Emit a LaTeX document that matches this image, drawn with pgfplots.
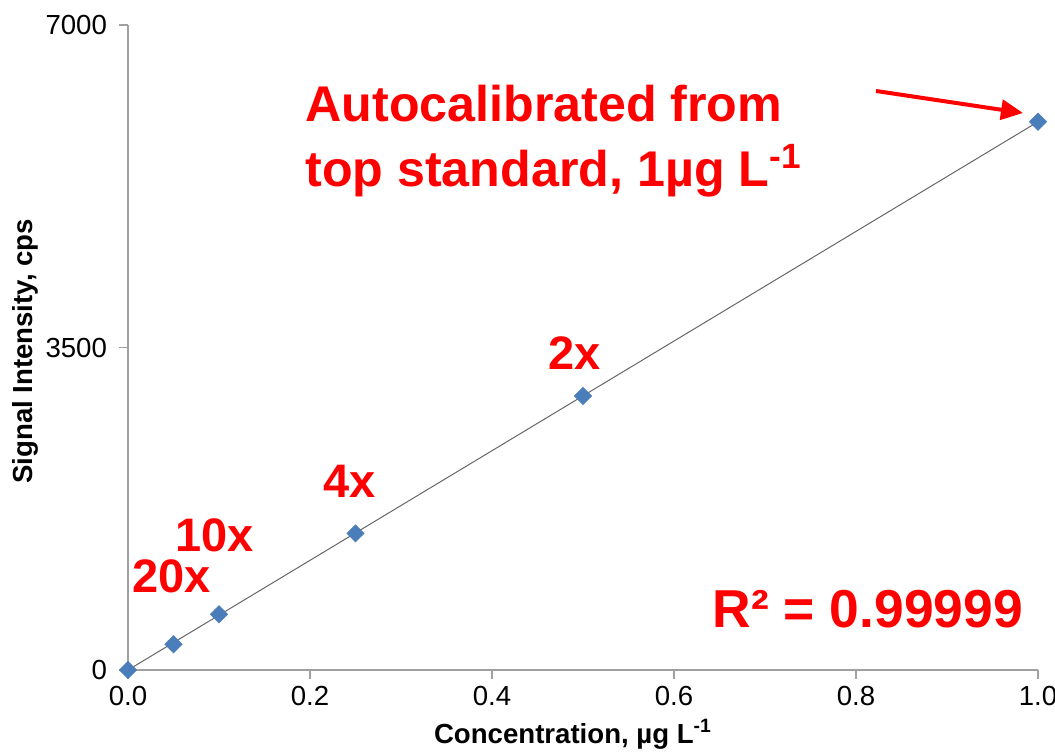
\documentclass[border=0pt]{standalone}
\usepackage{fontspec}
\setmainfont{Liberation Sans}
\usepackage{pgfplots}
\pgfplotsset{compat=1.18}
\usetikzlibrary{arrows.meta}
\definecolor{mblue}{HTML}{4A7EBB}
\definecolor{axgray}{HTML}{A0A0A0}
\definecolor{annred}{HTML}{FF0000}
\begin{document}
\begin{tikzpicture}
\begin{axis}[
  at={(0,0)}, anchor=south west,
  scale only axis, width=455pt, height=322.5pt,
  xmin=0, xmax=1, ymin=0, ymax=7000,
  axis lines=left,
  axis line style={axgray, line width=0.6pt, -},
  xtick={0,0.2,0.4,0.6,0.8,1},
  xticklabels={0.0,0.2,0.4,0.6,0.8,1.0},
  ytick={0,3500,7000},
  scaled y ticks=false,
  /pgf/number format/1000 sep={},
  /pgf/number format/assume math mode=true,
  tick align=outside,
  major tick length=4.5pt,
  tick style={axgray, line width=0.6pt},
  ticklabel style={font=\fontsize{13.8}{16}\selectfont, text=black},
  yticklabel style={xshift=-2.5pt},
  xlabel={Concentration, µg L\textsuperscript{-1}},
  ylabel={Signal Intensity, cps},
  xlabel style={at={(axis description cs:0.489,-0.1132)}, anchor=base, font=\bfseries\fontsize{13.8}{16}\selectfont, inner sep=0pt},
  ylabel style={at={(axis description cs:-0.1044,0.494)}, anchor=base, font=\bfseries\fontsize{13.8}{16}\selectfont, inner sep=0pt},
  clip=false,
]
\addplot[only marks, mark=square*, mark size=3pt, color=mblue, mark options={draw=mblue, fill=mblue, rotate=45}]
  coordinates {(0,0) (0.05,279) (0.1,605) (0.25,1483) (0.5,2974) (1.0,5950)};
\addplot[no marks, color=black!60, line width=0.5pt]
  coordinates {(0,0) (1,5950)};

\node[anchor=base west, inner sep=0pt, text=annred, font=\bfseries\fontsize{23.5}{28}\selectfont] at (axis cs:0.0044,836) {20x};
\node[anchor=base west, inner sep=0pt, text=annred, font=\bfseries\fontsize{23.5}{28}\selectfont] at (axis cs:0.0516,1281) {10x};
\node[anchor=base west, inner sep=0pt, text=annred, font=\bfseries\fontsize{23.5}{28}\selectfont] at (axis cs:0.214,1867) {4x};
\node[anchor=base west, inner sep=0pt, text=annred, font=\bfseries\fontsize{23.5}{28}\selectfont] at (axis cs:0.4615,3256) {2x};
\node[anchor=base west, inner sep=0pt, text=annred, font=\bfseries\fontsize{25.1}{30}\selectfont] at (axis cs:0.1945,5958) {Autocalibrated from};
\node[anchor=base west, inner sep=0pt, text=annred, font=\bfseries\fontsize{25.1}{30}\selectfont] at (axis cs:0.1945,5242) {top standard, 1µg L\textsuperscript{-1}};
\node[anchor=base west, inner sep=0pt, text=annred, font=\bfseries\fontsize{26.7}{32}\selectfont] at (axis cs:0.642,456) {R² = 0.99999};
\draw[annred, line width=2pt, -{Triangle[length=11pt, width=10pt]}] (axis cs:0.822,6284) -- (axis cs:0.9835,6045);
\end{axis}
\pgfresetboundingbox
\path[use as bounding box] (-64pt,-40.5pt) rectangle (463.5pt,335pt);
\end{tikzpicture}
\end{document}
